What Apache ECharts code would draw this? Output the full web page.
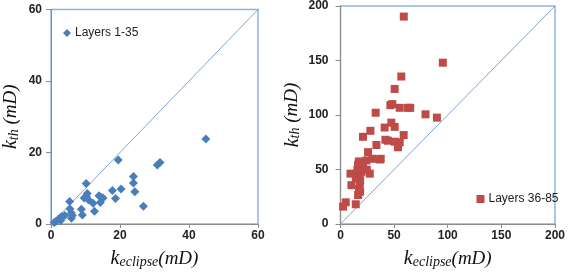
<!DOCTYPE html>
<html>
<head>
<meta charset="utf-8">
<script src="https://cdn.jsdelivr.net/npm/echarts@6/dist/echarts.min.js"></script>
<style>
  html, body { margin: 0; padding: 0; background: #fff; }
  #chart { width: 568px; height: 274px; }
</style>
</head>
<body>
<div id="chart"></div>
<script>
// Layers 1-35 (left panel)
var eclipse1 = [44.9, 19.5, 30.8, 31.6, 10.2, 23.9, 23.9, 24.3, 20.3, 17.8, 18.7, 26.8, 5.4, 9.6, 10.5, 10.3, 10.9, 12.2,
  12.6, 13.9, 14.6, 15.1, 14.3, 8.8, 9.1, 5.5, 5.9, 5.9, 4.0, 3.1, 2.3, 1.4, 0.9, 6.2, 2.8];
var th1 = [23.8, 17.9, 16.5, 17.2, 11.3, 13.3, 11.5, 9.0, 9.8, 9.4, 7.1, 5.0, 6.3, 7.3, 8.5, 7.6, 6.7, 5.8,
  3.6, 7.9, 7.4, 7.3, 6.0, 4.1, 2.5, 4.2, 3.1, 1.6, 2.4, 2.1, 1.5, 0.7, 0.4, 2.4, 1.0];

// Layers 36-85 (right panel)
var eclipse2 = [2.4, 4.9, 14.2, 16.4, 17.3, 10.2, 18, 9.3, 15.4, 19.5, 16.4, 21, 25.7, 27.3, 24.2, 29.8, 37.5, 33.5,
  21, 27.9, 41.2, 47.4, 50.5, 44.3, 50.5, 55.2, 53.6, 58.9, 32.8, 46.5, 55.2, 62.9, 65, 79.3, 89.9, 50.5, 56.7,
  95.4, 59, 17.7, 18.3, 14.3, 18.3, 24.5, 21.1, 17.1, 36.6, 41.9, 15.8, 48.3];
var th2 = [16, 19.9, 18.1, 26.6, 32, 35.6, 37.2, 46.2, 46.2, 47.8, 54.4, 56.8, 65.9, 46.2, 58.3, 59.8, 59.8, 72.5,
  80, 85.5, 88.5, 93, 89.1, 76.4, 75.5, 74.9, 70.4, 81.6, 102.1, 109, 106.6, 106.6, 106.6, 100.6, 97.6, 123.9, 135.3,
  148, 190.3, 45, 40.2, 41.7, 29.6, 49.8, 54.4, 57.4, 59.2, 77.3, 49.8, 110];

var leftMax = 60, rightMax = 200;
var leftTicks = 20, rightTicks = 50;

function pairs(xs, ys) {
  return xs.map(function (x, i) { return [x, ys[i]]; });
}

var mathFont = 'Liberation Serif';
var titleRich = {
  k: { fontFamily: mathFont, fontStyle: 'italic', fontSize: 20, color: '#111', lineHeight: 20, verticalAlign: 'top' },
  s: { fontFamily: mathFont, fontStyle: 'italic', fontSize: 14, color: '#111', lineHeight: 14, verticalAlign: 'bottom' },
  p: { fontFamily: mathFont, fontStyle: 'italic', fontSize: 19, color: '#111', lineHeight: 20, verticalAlign: 'top' }
};
var xName = '{k|k}{s|eclipse}{p|(mD)}';
var yName = '{k|k}{s|th}{p| (mD)}';

function xAxis(idx, max, step) {
  return {
    gridIndex: idx, type: 'value', min: 0, max: max, interval: step,
    name: xName, nameLocation: 'middle', nameGap: 25,
    nameTextStyle: { rich: titleRich, lineHeight: 23 },
    axisLine: { lineStyle: { color: '#8c8c8c', width: 1 } },
    axisTick: { show: true, length: 4, lineStyle: { color: '#8c8c8c' } },
    splitLine: { show: false },
    axisLabel: { fontFamily: 'Liberation Sans', fontSize: 12, fontWeight: 'bold', color: '#222', margin: 6 }
  };
}
function yAxis(idx, max, step) {
  return {
    gridIndex: idx, type: 'value', min: 0, max: max, interval: step,
    name: yName, nameLocation: 'middle', nameGap: idx === 0 ? 30 : 38, nameRotate: 90,
    nameTextStyle: { rich: titleRich, lineHeight: 23 },
    axisLine: { show: true, lineStyle: { color: '#8c8c8c', width: 1 } },
    axisTick: { show: true, length: 5, lineStyle: { color: '#8c8c8c' } },
    splitLine: { show: false },
    axisLabel: { fontFamily: 'Liberation Sans', fontSize: 12, fontWeight: 'bold', color: '#222', margin: idx === 0 ? 9 : 12 }
  };
}

var chart = echarts.init(document.getElementById('chart'), null, { renderer: 'canvas' });
var option = {
  animation: false,
  grid: [
    { left: 49.5, right: 310, top: 9.5, bottom: 45.5, show: true, borderColor: '#8db3e2', borderWidth: 1.5, backgroundColor: 'transparent' },
    { left: 340.5, right: 12.5, top: 5.5, bottom: 48, show: true, borderColor: '#8db3e2', borderWidth: 1.5, backgroundColor: 'transparent' }
  ],
  xAxis: [xAxis(0, leftMax, leftTicks), xAxis(1, rightMax, rightTicks)],
  yAxis: [yAxis(0, leftMax, leftTicks), yAxis(1, rightMax, rightTicks)],
  legend: [
    {
      data: [{ name: 'Layers 1-35', icon: 'diamond' }],
      left: 63, top: 27, padding: 0, itemWidth: 8, itemHeight: 8, itemGap: 4,
      textStyle: { fontFamily: 'Liberation Sans', fontSize: 12, color: '#222', padding: [0, 0, 0, -1] }
    },
    {
      data: [{ name: 'Layers 36-85', icon: 'rect' }],
      left: 476.5, top: 193, padding: 0, itemWidth: 8, itemHeight: 8, itemGap: 4,
      textStyle: { fontFamily: 'Liberation Sans', fontSize: 12, color: '#222', padding: [0, 0, 0, -1] }
    }
  ],
  series: [
    {
      type: 'line', xAxisIndex: 0, yAxisIndex: 0, data: [[0, 0], [leftMax, leftMax]],
      symbol: 'none', lineStyle: { color: '#7da4d8', width: 1 }, silent: true, z: 1
    },
    {
      type: 'line', xAxisIndex: 1, yAxisIndex: 1, data: [[0, 0], [rightMax, rightMax]],
      symbol: 'none', lineStyle: { color: '#7da4d8', width: 1 }, silent: true, z: 1
    },
    {
      name: 'Layers 1-35', type: 'scatter', xAxisIndex: 0, yAxisIndex: 0,
      data: pairs(eclipse1, th1), symbol: 'diamond', symbolSize: 9,
      itemStyle: { color: '#4a7ebb', opacity: 1 }, z: 3
    },
    {
      name: 'Layers 36-85', type: 'scatter', xAxisIndex: 1, yAxisIndex: 1,
      data: pairs(eclipse2, th2), symbol: 'rect', symbolSize: 8,
      itemStyle: { color: '#be4b48', opacity: 1 }, z: 3
    }
  ]
};
chart.setOption(option);
</script>
</body>
</html>
